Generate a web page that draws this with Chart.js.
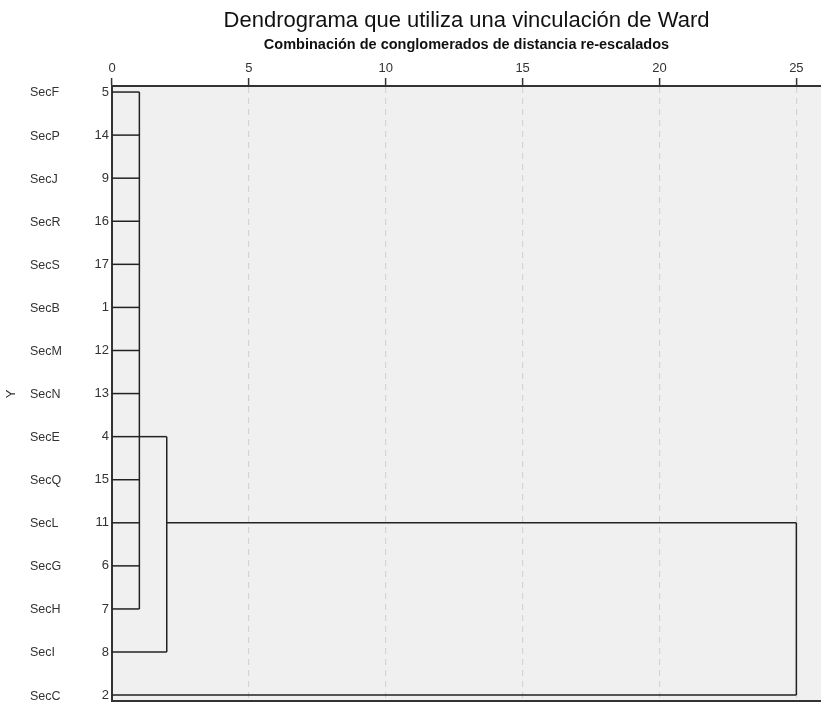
<!DOCTYPE html>
<html lang="es">
<head>
  <meta charset="UTF-8" />
  <title>Dendrograma - Ward</title>
  <script src="https://cdn.jsdelivr.net/npm/chart.js"></script>
  <style>
    body { margin: 0; background: #fff; }
    #wrap { width: 821px; height: 702px; }
  </style>
</head>
<body>
  <div id="wrap">
    <canvas id="dendro" width="821" height="702"></canvas>
  </div>
  <script>
    // Leaves, top to bottom, as they appear in the picture
    const leafNames = ["SecF", "SecP", "SecJ", "SecR", "SecS", "SecB", "SecM", "SecN",
                       "SecE", "SecQ", "SecL", "SecG", "SecH", "SecI", "SecC"];
    const caseNumbers = [5, 14, 9, 16, 17, 1, 12, 13, 4, 15, 11, 6, 7, 8, 2];
    // re-scaled distance at which each leaf joins its first cluster
    const leafHeights = [1, 1, 1, 1, 1, 1, 1, 1, 1, 1, 1, 1, 1, 2, 25];

    // merges: distance, first row, last row covered by the vertical bar,
    // and the row from which the merged cluster leaves (null = root)
    const mergeHeights = [1, 2, 25];
    const mergeTop = [0, 8, 10];
    const mergeBottom = [12, 13, 14];
    const mergeOutRow = [8, 10, null];

    const xTicks = [0, 5, 10, 15, 20, 25];

    const lineColor = "#222";
    const fontFam = "'Liberation Sans', Arial, sans-serif";

    function seg(x1, y1, x2, y2) {
      return {
        data: [{ x: x1, y: y1 }, { x: x2, y: y2 }],
        showLine: true,
        borderColor: lineColor,
        borderWidth: 1.5,
        pointRadius: 0,
        fill: false
      };
    }

    const datasets = [];
    // leaf stubs
    leafHeights.forEach((h, i) => datasets.push(seg(0, i, h, i)));
    // cluster bars and connectors to the next merge
    mergeHeights.forEach((h, k) => {
      datasets.push(seg(h, mergeTop[k], h, mergeBottom[k]));
      if (mergeOutRow[k] !== null) {
        datasets.push(seg(h, mergeOutRow[k], mergeHeights[k + 1], mergeOutRow[k]));
      }
    });

    // grey plot background, bottom frame line, leaf names at the far left
    const dendroPlugin = {
      id: "dendroExtras",
      beforeDraw(chart) {
        const a = chart.chartArea;
        const ctx = chart.ctx;
        ctx.save();
        ctx.fillStyle = "#f0f0f0";
        ctx.fillRect(a.left, a.top, a.right - a.left, a.bottom - a.top);
        ctx.restore();
      },
      afterDraw(chart) {
        const a = chart.chartArea;
        const ys = chart.scales.y;
        const ctx = chart.ctx;
        ctx.save();
        ctx.strokeStyle = "#333";
        ctx.lineWidth = 2;
        ctx.beginPath();
        ctx.moveTo(a.left, a.bottom - 1);
        ctx.lineTo(a.right, a.bottom - 1);
        ctx.stroke();
        ctx.font = "12.5px " + fontFam;
        ctx.fillStyle = "#333";
        ctx.textAlign = "left";
        ctx.textBaseline = "middle";
        leafNames.forEach((n, i) => {
          ctx.fillText(n, 30, ys.getPixelForValue(i) + 1);
        });
        ctx.restore();
      }
    };

    new Chart(document.getElementById("dendro").getContext("2d"), {
      type: "scatter",
      data: { datasets: datasets },
      plugins: [dendroPlugin],
      options: {
        responsive: false,
        animation: false,
        layout: { padding: 0, autoPadding: false },
        plugins: {
          legend: { display: false },
          tooltip: { enabled: false },
          title: {
            display: true,
            fullSize: false,
            text: "Dendrograma que utiliza una vinculación de Ward",
            color: "#111",
            font: { family: fontFam, size: 22, weight: "normal", lineHeight: 1.2 },
            padding: { top: 8, bottom: 0 }
          }
        },
        scales: {
          x: {
            type: "linear",
            position: "top",
            min: 0,
            max: 25.9,
            afterFit: s => { s.height = 86 - 34.4; s.paddingLeft = 0; s.paddingRight = 0; },
            afterBuildTicks: s => { s.ticks = xTicks.map(v => ({ value: v })); },
            ticks: {
              color: "#333",
              font: { family: fontFam, size: 13 },
              padding: 2,
              maxRotation: 0
            },
            title: {
              display: true,
              text: "Combinación de conglomerados de distancia re-escalados",
              color: "#111",
              font: { family: fontFam, size: 14.5, weight: "bold" },
              padding: { top: 2, bottom: 4 }
            },
            grid: {
              drawOnChartArea: true,
              color: ctx => (ctx.tick && ctx.tick.value === 0 ? "rgba(0,0,0,0)" : "#d4d4d4"),
              lineWidth: 1.2,
              tickColor: "#333",
              tickLength: 8,
              tickWidth: 1.5
            },
            border: { display: true, color: "#333", width: 2, dash: [6, 5] }
          },
          y: {
            type: "linear",
            reverse: true,
            min: -0.14,
            max: 14.16,
            afterFit: s => { s.width = 112; s.paddingTop = 0; s.paddingBottom = 0; },
            afterBuildTicks: s => { s.ticks = caseNumbers.map((c, i) => ({ value: i })); },
            ticks: {
              color: "#333",
              font: { family: fontFam, size: 13 },
              padding: 3,
              callback: (v, i) => caseNumbers[i]
            },
            title: {
              display: true,
              text: "Y",
              color: "#333",
              font: { family: fontFam, size: 13 },
              padding: { top: 4, bottom: 0 }
            },
            grid: { display: false, drawTicks: false },
            border: { display: true, color: "#333", width: 2 }
          }
        }
      }
    });
  </script>
</body>
</html>
